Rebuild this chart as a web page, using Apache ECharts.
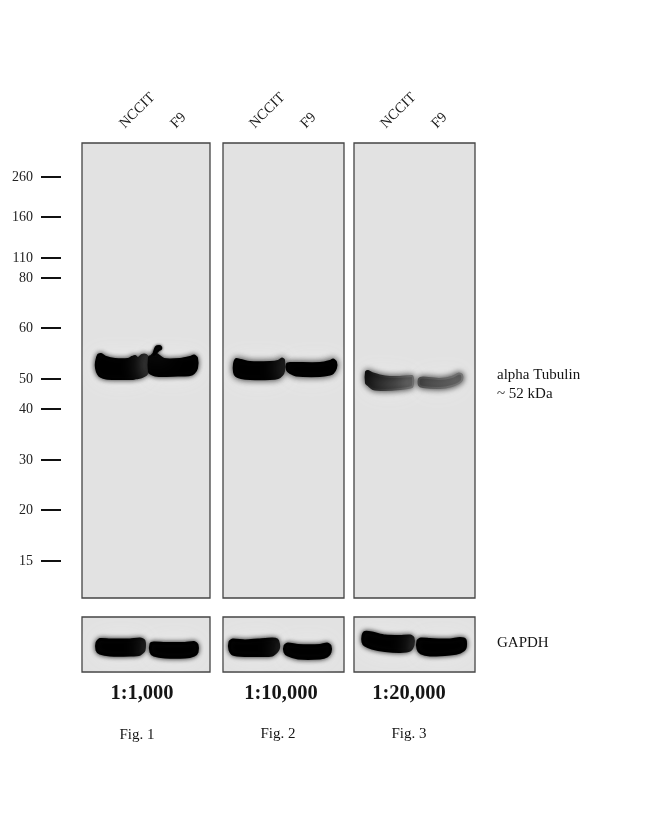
<!DOCTYPE html>
<html><head><meta charset="utf-8">
<style>html,body{margin:0;padding:0;background:#fff}#c{width:650px;height:819px}</style>
<script src="https://cdn.jsdelivr.net/npm/echarts@6/dist/echarts.min.js"></script>
</head><body><div id="c"></div>
<script>
// Marker ladder: size (kDa) and migration distance from the top of the membrane
var ladderKDa = [260,160,110,80,60,50,40,30,20,15];
var ladderMigration = [34,74,115,135,185,236,266,317,367,418];
// Lane labels and where they sit along the membrane width
var laneNames = ['NCCIT','F9'];
var lanePositions = [[40,91],[29,80],[29,80]];
var dilutions = ['1:1,000','1:10,000','1:20,000'];
var figureNames = ['Fig. 1','Fig. 2','Fig. 3'];
// Band outlines: [lane position, upper edge, lower edge]
var tubulin1A = [[14,219,225],[16,212,231],[19,211,234],[24,214,235.5],[33,216,236],[46,216,236],[50,214,236],[53,213,235.5],[56,215,235],[60,212,234],[64,212,232],[66,215,229]];
var tubulin1B = [[67,214,229],[69,213,231],[73,210,232.5],[82,216,233],[98,216,232.5],[108,214,232],[112,212.5,230],[115,215,225]];
var tubulin1Spot = [[72,209,212],[74,204,210],[77,203,207],[79,204,206]];
var tubulin2A = [[11,221,229],[13,216,233],[18,217,235],[27,219,236],[47,219,236],[55,218,235],[59,215.5,232],[61,217,228]];
var tubulin2B = [[64,221,227],[67,220,230],[73,220,232.5],[97,220,233],[107,218,231.5],[110,216.5,230],[113,219,225]];
var tubulin3A = [[12,229,240],[14,228,242],[19,230.5,246],[31,233.5,247],[46,234,246],[58,233,244],[59,235,241]];
var tubulin3B = [[65,236,242],[69,234.5,244],[86,236,245],[98,234,243],[105,230.5,240],[108,232,237]];
var gapdh1A = [[15,26,33],[18,22.5,36],[28,23,38],[48,23,38],[58,22,37],[62,24,33]];
var gapdh1B = [[69,27,35],[72,26,38],[83,26.5,40],[103,26.5,40],[112,25.5,38],[115,28,35]];
var gapdh2A = [[7,25,33],[10,23,37],[22,24,38.5],[35,23,38.5],[49,22,38],[54,23,34],[55.5,27,31]];
var gapdh2B = [[62,29,35],[65,27,38],[75,28.5,41],[97,28.5,41],[104,27,39],[107,29,35]];
var gapdh3A = [[9,19,25],[11,15.5,28],[18,16,31],[31,19,33.5],[46,19.5,34.5],[56,19,33],[59,21,28]];
var gapdh3B = [[64,24,32],[67,22,36],[76,22.5,38],[96,23,37],[106,21.5,35],[111,23,31]];

var MEMBRANE = '#e2e2e2', HALO = '#eeeeee', INK = '#000';
var SERIF = '"Liberation Serif","Times New Roman",serif';
var panelX = [[82,128],[223,121],[354,121]];

function vGrad(a,b){return new echarts.graphic.LinearGradient(0,0,1,1,[{offset:0,color:a},{offset:1,color:b}]);}

function bandSeries(idx, stations, fill, blur, grow){
  return {
    type:'custom', xAxisIndex:idx, yAxisIndex:idx, coordinateSystem:'cartesian2d',
    silent:true, clip:true, data:stations,
    encode:{x:0,y:[1,2]},
    renderItem:function(params, api){
      if(params.dataIndex!==0) return null;
      var top=[],bot=[];
      stations.forEach(function(s){
        top.push(api.coord([s[0],s[1]]));
        bot.unshift(api.coord([s[0],s[2]]));
      });
      var pts=top.concat(bot);
      return {type:'group',children:[
        {type:'polygon',shape:{points:pts,smooth:0.25},style:{fill:HALO,shadowColor:HALO,shadowBlur:24}},
        {type:'polygon',shape:{points:pts,smooth:0.25},style:{fill:fill,stroke:fill,lineWidth:grow,lineJoin:'round',shadowColor:'rgba(10,10,10,0.8)',shadowBlur:blur}}
      ]};
    }
  };
}

var grids=[],xAxes=[],yAxes=[];
function addPanel(px, top, h, maxY){
  grids.push({left:px[0],top:top,width:px[1],height:h,show:true,backgroundColor:MEMBRANE,borderColor:'#444',borderWidth:1.3});
  xAxes.push({type:'value',gridIndex:grids.length-1,min:0,max:px[1],show:false,splitLine:{show:false}});
  yAxes.push({type:'value',gridIndex:grids.length-1,min:0,max:maxY,inverse:true,show:false,splitLine:{show:false}});
}
panelX.forEach(function(p){addPanel(p,143,455,455);});
panelX.forEach(function(p){addPanel(p,617,55,55);});

// Lane names along the top axis of each big membrane
panelX.forEach(function(p,i){
  xAxes[i].show=true;
  xAxes[i].position='top';
  xAxes[i].axisLine={show:false};
  xAxes[i].axisTick={show:false};
  xAxes[i].axisLabel={show:true,rotate:45,margin:17,customValues:lanePositions[i],fontFamily:SERIF,fontSize:14.5,color:'#222',
    formatter:function(v){return laneNames[lanePositions[i].indexOf(v)];}};
});

// The marker ladder stands on its own narrow grid left of membrane 1
grids.push({left:61,top:143,width:1,height:455,show:false});
xAxes.push({type:'value',gridIndex:6,min:0,max:1,show:false,splitLine:{show:false}});
yAxes.push({type:'value',gridIndex:6,min:0,max:455,inverse:true,position:'left',splitLine:{show:false},
  axisLine:{show:false},
  axisTick:{show:true,inside:false,length:20,customValues:ladderMigration,lineStyle:{color:'#111',width:2}},
  axisLabel:{show:true,margin:28,customValues:ladderMigration,fontFamily:SERIF,fontSize:14,color:'#222',
    formatter:function(v){return String(ladderKDa[ladderMigration.indexOf(v)]);}}
});

var series=[
  bandSeries(0,tubulin1A,INK,5,2),bandSeries(0,tubulin1B,INK,5,2),bandSeries(0,tubulin1Spot,INK,3,2),
  bandSeries(1,tubulin2A,INK,6,2),bandSeries(1,tubulin2B,INK,6,2),
  bandSeries(2,tubulin3A,vGrad('#0a0a0a','#707070'),6,2),bandSeries(2,tubulin3B,vGrad('#484848','#7c7c7c'),6,2),
  bandSeries(3,gapdh1A,INK,5,3),bandSeries(3,gapdh1B,INK,5,3),
  bandSeries(4,gapdh2A,INK,5,3),bandSeries(4,gapdh2B,INK,5,3),
  bandSeries(5,gapdh3A,INK,5,3),bandSeries(5,gapdh3B,INK,5,3)
];

function label(text,x,y,size,weight,align){
  return {type:'text',x:x,y:y,silent:true,style:{text:text,fontFamily:SERIF,fontSize:size,fontWeight:weight||'normal',fill:'#151515',textAlign:align||'left',textVerticalAlign:'middle'}};
}
var gfx=[
  label('alpha Tubulin',497,375,15),
  label('~ 52 kDa',497,394,15),
  label('GAPDH',497,643,15)
];
[142,281,409].forEach(function(x,i){gfx.push(label(dilutions[i],x,694,20.5,'bold','center'));});
[[137,735],[278,734],[409,734]].forEach(function(p,i){gfx.push(label(figureNames[i],p[0],p[1],15,'normal','center'));});

var chart=echarts.init(document.getElementById('c'),null,{renderer:'canvas'});
chart.setOption({animation:false,backgroundColor:'#fff',grid:grids,xAxis:xAxes,yAxis:yAxes,series:series,graphic:gfx,tooltip:{show:false}});
</script></body></html>
